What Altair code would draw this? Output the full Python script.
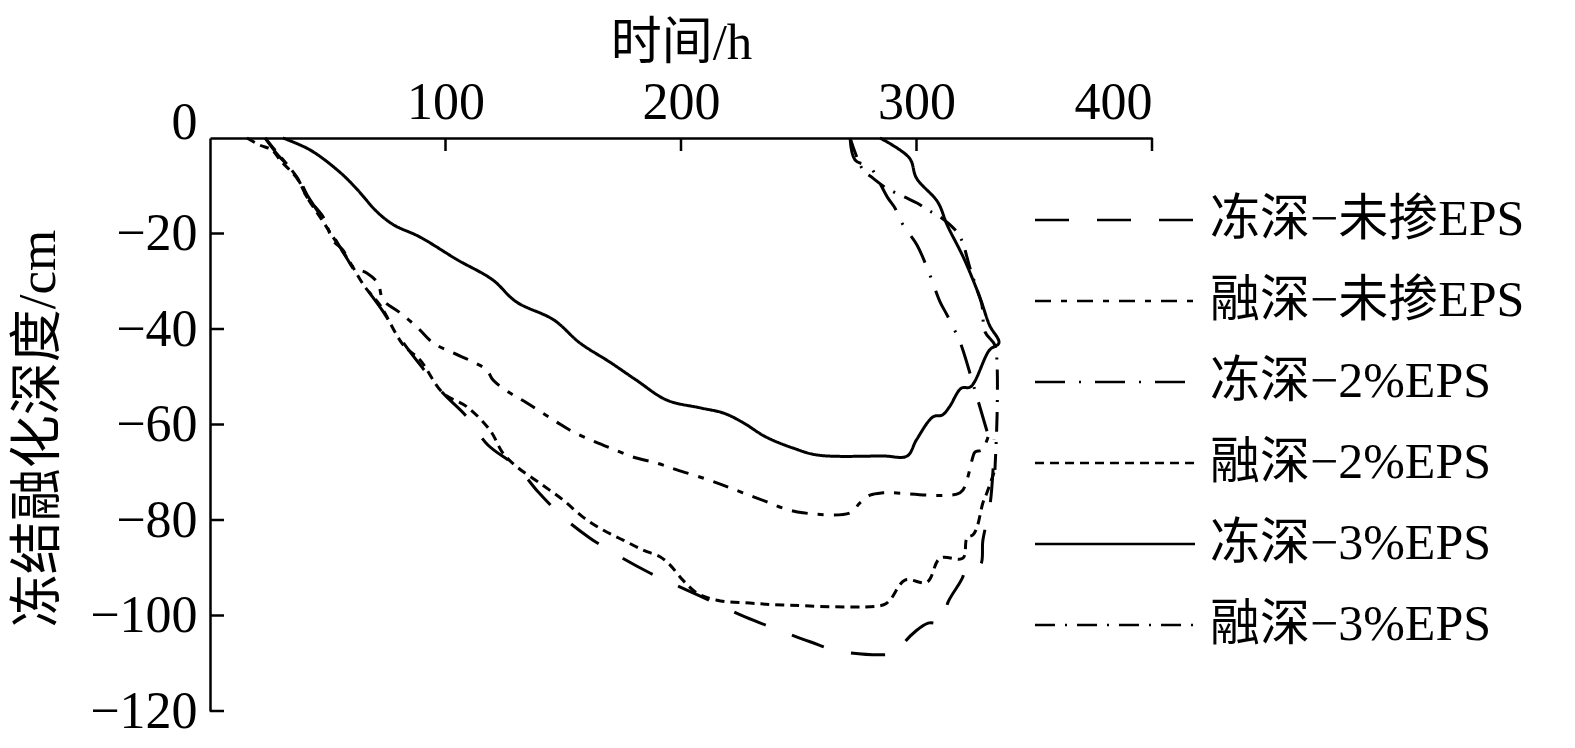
import altair as alt
import pandas as pd

# ---- categories / styles ----
SERIES = ["冻深−未掺EPS", "融深−未掺EPS", "冻深−2%EPS", "融深−2%EPS", "冻深−3%EPS", "融深−3%EPS"]
DASHES = [[34, 28], [16, 10, 6, 10], [30, 14, 2, 14], [9, 6], [1, 0], [20, 10, 2, 10]]

X_TICKS = [100, 200, 300, 400]
Y_TICKS = [0, -20, -40, -60, -80, -100, -120]
Y_TICKS_INNER = [-20, -40, -60, -80, -100, -120]

# ---- series values (time h, depth cm), in drawing order ----
S1_T = [23.4, 28.9, 36.9, 41.2, 48.8, 56.5, 64.5, 73.0, 80.7, 90.0, 98.9, 109.1, 118.0, 130.4, 139.3,
        149.9, 161.4, 174.1, 186.8, 200.4, 213.6, 227.2, 241.2, 254.8, 268.4, 293.0, 295.1, 304.9,
        310.8, 313.4, 319.7, 320.6, 327.0, 328.2, 331.2, 332.5, 332.9]
S1_V = [0, -3.6, -7.7, -11.9, -17.6, -23.9, -30.2, -36.0, -41.9, -48.0, -53.4, -58.4, -64.3, -68.9, -74.1,
        -79.4, -83.8, -87.7, -91.1, -94.2, -97.2, -100.3, -103.0, -105.5, -107.6, -107.6, -105.5, -101.6,
        -101.6, -97.2, -91.9, -89.4, -89.4, -84.2, -76.9, -69.5, -63.2]

S2_T = [23.4, 28.5, 36.9, 41.2, 48.0, 52.2, 56.5, 60.7, 66.7, 71.3, 73.5, 80.7, 87.9, 94.7, 103.2, 111.7,
        117.6, 120.2, 127.4, 134.6, 147.3, 152.9, 161.4, 169.9, 179.6, 189.8, 198.3, 209.3, 217.8, 226.3,
        236.5, 243.3, 251.8, 271.8, 276.0, 280.3, 285.8, 318.5, 321.4, 323.6, 324.8, 327.8, 330.4]
S2_V = [0, -3.1, -8.2, -12.4, -16.5, -21.4, -23.5, -27.0, -28.3, -30.4, -33.9, -36.6, -39.6, -42.9, -45.0,
        -46.9, -48.6, -50.7, -53.4, -55.5, -59.5, -61.2, -63.2, -64.9, -66.8, -68.1, -69.5, -71.2, -72.7,
        -74.3, -76.2, -77.5, -78.5, -78.5, -76.4, -74.8, -74.3, -74.3, -71.6, -67.4, -65.8, -65.3, -62.6]

S3_T = [271.8, 273.9, 280.3, 283.7, 287.9, 290.9, 294.3, 300.2, 305.7, 310.0, 313.0, 317.2, 319.3, 324.8, 330.4]
S3_V = [0, -4.6, -6.1, -8.8, -12.6, -14.7, -18.2, -22.4, -28.7, -34.3, -37.1, -41.3, -43.8, -52.8, -62.2]

S4_T = [15.7, 21.2, 26.3, 29.7, 36.9, 41.2, 47.6, 53.1, 59.4, 65.8, 72.2, 82.0, 89.2, 98.9, 109.1, 118.9,
        124.4, 130.4, 140.1, 149.9, 158.4, 166.9, 175.4, 183.9, 191.1, 195.3, 200.8, 206.8, 215.3, 229.3,
        243.3, 285.8, 288.7, 295.1, 304.5, 310.0, 319.7, 321.4, 324.0, 325.7, 328.2, 329.9, 333.3]
S4_V = [0, -1.5, -2.5, -4.6, -8.4, -12.4, -17.2, -21.4, -26.0, -31.2, -35.0, -43.3, -46.5, -53.4, -56.3,
        -61.2, -66.0, -68.9, -72.3, -75.8, -79.4, -82.1, -84.2, -86.3, -87.7, -89.4, -92.6, -95.3, -96.8,
        -97.4, -97.8, -97.8, -96.8, -92.6, -93.0, -88.0, -88.0, -83.8, -83.1, -81.5, -76.4, -74.3, -69.5]

S5_T = [31.0, 42.5, 55.0, 62.0, 71.0, 78.0, 89.0, 105.0, 120.0, 130.0, 146.0, 157.0, 170.0, 181.0, 194.0,
        208.0, 218.0, 226.0, 236.0, 248.0, 258.0, 286.0, 296.0, 300.0, 307.0, 311.0, 314.0, 319.0, 323.0,
        331.0, 335.0, 331.0, 327.0, 320.0, 313.0, 309.0, 300.0, 297.0, 284.5]
S5_V = [0, -2.5, -7.1, -10.5, -15.5, -18.2, -20.7, -25.5, -29.7, -34.3, -38.1, -42.9, -47.0, -50.7, -54.9,
        -56.5, -57.6, -59.5, -62.6, -65.0, -66.4, -66.6, -66.6, -63.2, -58.4, -58.0, -56.3, -52.4, -52.1,
        -44.4, -42.9, -39.2, -33.5, -25.1, -18.2, -13.4, -8.4, -4.2, 0]

S6_T = [271.8, 277.3, 281.5, 286.6, 295.1, 300.2, 304.9, 310.0, 317.2, 319.7, 321.4, 322.7, 326.1, 327.8,
        329.1, 333.3, 334.2, 334.2, 333.3]
S6_V = [0, -6.7, -8.4, -10.3, -12.4, -13.6, -15.1, -16.5, -19.7, -22.0, -24.9, -27.2, -32.3, -35.0,
        -40.6, -43.4, -47.5, -58.4, -69.5]

T_LIST = [S1_T, S2_T, S3_T, S4_T, S5_T, S6_T]
V_LIST = [S1_V, S2_V, S3_V, S4_V, S5_V, S6_V]

rows = []
for name, ts, vs in zip(SERIES, T_LIST, V_LIST):
    for i, (t, v) in enumerate(zip(ts, vs)):
        rows.append({"series": name, "i": i, "t": t, "v": v})
df = pd.DataFrame(rows)

FONT = "Liberation Serif, Noto Sans CJK SC"

x_scale = alt.Scale(domain=[0, 400], nice=False, zero=False)
y_scale = alt.Scale(domain=[-120, 0], nice=False, zero=False)

AX_X = alt.Axis(orient="top", values=X_TICKS, title="时间/h", labelPadding=9,
                titleY=-80, titleBaseline="alphabetic", tickSize=0, ticks=False, titleFontSize=51)
AX_Y = alt.Axis(values=Y_TICKS, title="冻结融化深度/cm", labelPadding=13, tickSize=0, ticks=False,
                titleX=-172, titleY=290, titleBaseline="middle", titleAngle=-90, titleFontSize=53,
                labelBaseline={"condition": {"test": "datum.value == 0", "value": "alphabetic"},
                               "value": "middle"})

lines = alt.Chart(df).mark_line(color="black", strokeWidth=3, interpolate="catmull-rom").encode(
    x=alt.X("t:Q", scale=x_scale, axis=AX_X, title="时间/h"),
    y=alt.Y("v:Q", scale=y_scale, axis=AX_Y, title="冻结融化深度/cm"),
    strokeDash=alt.StrokeDash("series:N", scale=alt.Scale(domain=SERIES, range=DASHES),
                              legend=alt.Legend(title=None, orient="none", legendX=880, legendY=57,
                                                symbolType="M-4,0H4", symbolSize=1600, symbolStrokeWidth=2.6,
                                                symbolStrokeColor="black", labelFont=FONT, labelFontSize=50,
                                                labelColor="black", labelOffset=70, labelLimit=0,
                                                rowPadding=31, padding=0, symbolOffset=0)),
    order=alt.Order("i:Q"),
)

xt = alt.Chart(pd.DataFrame({"t": X_TICKS})).mark_rule(color="black", strokeWidth=2.5).encode(
    x=alt.X("t:Q", scale=x_scale, axis=AX_X, title="时间/h"), y=alt.value(0), y2=alt.value(13))
yt = alt.Chart(pd.DataFrame({"v": Y_TICKS_INNER})).mark_rule(color="black", strokeWidth=2.5).encode(
    y=alt.Y("v:Q", scale=y_scale, axis=AX_Y, title="冻结融化深度/cm"), x=alt.value(0), x2=alt.value(14))

chart = alt.layer(lines, xt, yt).properties(
    width=942, height=573,
    autosize=alt.AutoSizeParams(type="none"),
    padding={"left": 202, "top": 130, "right": 400, "bottom": 32},
).configure_view(stroke=None).configure_axis(
    domainColor="black", domainWidth=2.5, labelColor="black", titleColor="black",
    labelFont=FONT, titleFont=FONT, grid=False, labelFontSize=52, titleFontSize=48,
    titleFontWeight="normal",
)

chart.save("out.html", embed_options={"renderer": "svg", "actions": False})
